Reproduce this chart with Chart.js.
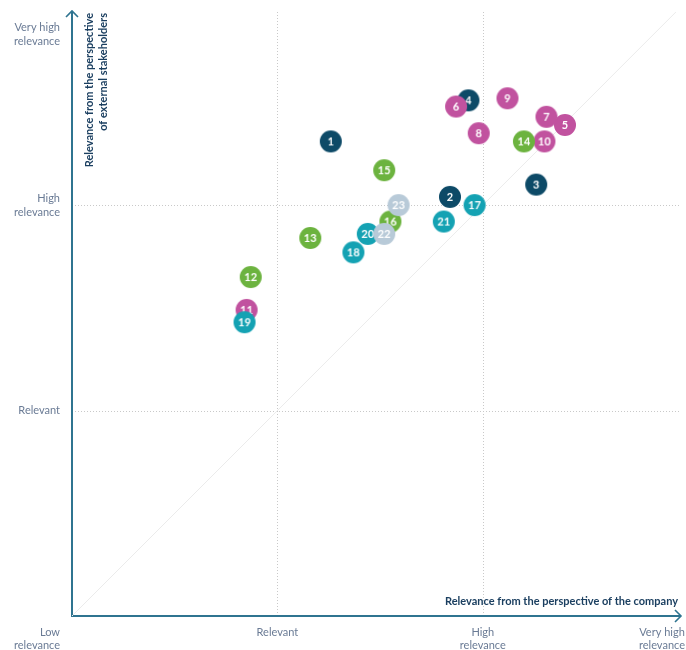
<!DOCTYPE html>
<html>
<head>
<meta charset="utf-8">
<script src="https://cdn.jsdelivr.net/npm/chart.js@4.4.1/dist/chart.umd.min.js"></script>
<style>
  html, body { margin: 0; background: #fff; }
</style>
</head>
<body>
<canvas id="matrix" width="686" height="650"></canvas>
<script>
// materiality topics: number, score for the company (x), score for stakeholders (y)
const topicIds = [1, 2, 3, 4, 5, 6, 7, 8, 9, 10, 11, 12, 13, 14, 15, 16, 17, 18, 19, 20, 21, 22, 23];
const companyScores = [1.26, 1.84, 2.26, 1.93, 2.40, 1.87, 2.31, 1.98, 2.12, 2.30, 0.85, 0.87,
  1.16, 2.20, 1.52, 1.55, 1.96, 1.37, 0.84, 1.44, 1.81, 1.52, 1.59];
const stakeholderScores = [2.31, 2.04, 2.10, 2.51, 2.39, 2.48, 2.43, 2.35, 2.52, 2.31, 1.49, 1.65,
  1.84, 2.31, 2.17, 1.92, 2.00, 1.77, 1.43, 1.86, 1.92, 1.86, 2.00];
const topicGroups = ['A', 'A', 'A', 'A', 'B', 'B', 'B', 'B', 'B', 'B', 'B', 'C',
  'C', 'C', 'C', 'C', 'D', 'D', 'D', 'D', 'D', 'E', 'E'];

// relevance levels used on both axes
const levelValues = [0, 1, 2, 3];
const levelLabels = [['Low', 'relevance'], ['Relevant'], ['High', 'relevance'], ['Very high', 'relevance']];
const xTitle = ['Relevance from the perspective of the company'];
const yTitle = ['Relevance from the perspective', 'of external stakeholders'];

const groupColors = { A: '#0d4a67', B: '#c1529f', C: '#6cb33f', D: '#14a2b3', E: '#b8cad8' };
const axisColor = '#2f7490';
const labelColor = '#6a7b95';
const titleColor = '#1b3f60';
const font = 'Lato';

function badge(label, color) {
  const c = document.createElement('canvas');
  c.width = 24;
  c.height = 24;
  const g = c.getContext('2d');
  g.fillStyle = color;
  g.beginPath();
  g.arc(12, 12, 11, 0, Math.PI * 2);
  g.fill();
  g.fillStyle = '#fff';
  g.font = 'bold 11px ' + font;
  g.textAlign = 'center';
  g.textBaseline = 'middle';
  g.fillText(String(label), 12, 12.5);
  return c;
}

const points = topicIds.map((id, i) => ({ x: companyScores[i], y: stakeholderScores[i] }));
const badges = topicIds.map((id, i) => badge(id, groupColors[topicGroups[i]]));

const frame = {
  id: 'frame',
  beforeDatasetsDraw(chart) {
    const { ctx, chartArea: a, scales: { x, y } } = chart;
    ctx.save();
    // dotted grid at the inner levels
    ctx.strokeStyle = '#c9c9c9';
    ctx.lineWidth = 1;
    ctx.setLineDash([1, 2]);
    levelValues.slice(1, 3).forEach(v => {
      const px = Math.round(x.getPixelForValue(v)) + 0.5;
      const py = Math.round(y.getPixelForValue(v)) + 0.5;
      ctx.beginPath(); ctx.moveTo(px, a.top); ctx.lineTo(px, a.bottom); ctx.stroke();
      ctx.beginPath(); ctx.moveTo(a.left, py); ctx.lineTo(a.right, py); ctx.stroke();
    });
    ctx.setLineDash([]);
    // axes with arrow heads
    ctx.strokeStyle = axisColor;
    ctx.lineWidth = 2;
    ctx.beginPath();
    ctx.moveTo(a.left, a.top - 1);
    ctx.lineTo(a.left, a.bottom);
    ctx.lineTo(a.right + 1, a.bottom);
    ctx.stroke();
    ctx.lineWidth = 1.6;
    ctx.beginPath();
    ctx.moveTo(a.left - 6, a.top + 5); ctx.lineTo(a.left, a.top - 1); ctx.lineTo(a.left + 6, a.top + 5);
    ctx.moveTo(a.right - 5, a.bottom - 6); ctx.lineTo(a.right + 1, a.bottom); ctx.lineTo(a.right - 5, a.bottom + 6);
    ctx.stroke();
    ctx.restore();
  },
  afterDraw(chart) {
    const { ctx, chartArea: a, scales: { x, y }, width } = chart;
    ctx.save();
    ctx.fillStyle = labelColor;
    ctx.font = '11px ' + font;
    ctx.textBaseline = 'middle';
    // y levels (right aligned left of the axis)
    ctx.textAlign = 'right';
    levelValues.slice(1).forEach((v, k) => {
      const lines = levelLabels[k + 1];
      const cy = Math.max(y.getPixelForValue(v), 34);
      lines.forEach((t, j) => ctx.fillText(t, a.left - 12, cy + (j - (lines.length - 1) / 2) * 14));
    });
    // x levels
    levelValues.forEach((v, k) => {
      const lines = levelLabels[k];
      let cx = x.getPixelForValue(v);
      if (k === 0) { ctx.textAlign = 'right'; cx = a.left - 12; }
      else { ctx.textAlign = 'center'; cx = Math.min(cx, width - 24); }
      lines.forEach((t, j) => ctx.fillText(t, cx, a.bottom + 16 + j * 13.5));
    });
    // axis titles
    ctx.fillStyle = titleColor;
    ctx.font = 'bold 11px ' + font;
    ctx.textAlign = 'right';
    ctx.textBaseline = 'alphabetic';
    ctx.fillText(xTitle[0], a.right - 2, a.bottom - 11);
    ctx.translate(a.left + 21, a.top);
    ctx.rotate(-Math.PI / 2);
    yTitle.forEach((t, j) => ctx.fillText(t, -1, j * 14));
    ctx.restore();
  }
};

new Chart(document.getElementById('matrix'), {
  type: 'scatter',
  data: {
    datasets: [
      {
        data: points,
        pointStyle: badges,
        pointRadius: 11,
        clip: false
      },
      {
        type: 'line',
        data: [{ x: 0, y: 0 }, { x: 3, y: 3 }],
        borderColor: '#ebebeb',
        borderWidth: 1,
        pointRadius: 0
      }
    ]
  },
  options: {
    responsive: false,
    animation: false,
    events: [],
    layout: { autoPadding: false, padding: { left: 72, right: 6, top: 12, bottom: 34 } },
    plugins: { legend: { display: false }, tooltip: { enabled: false } },
    scales: {
      x: { type: 'linear', min: 0, max: 2.96, display: false },
      y: { type: 'linear', min: 0, max: 2.94, display: false }
    }
  },
  plugins: [frame]
});
</script>
</body>
</html>
